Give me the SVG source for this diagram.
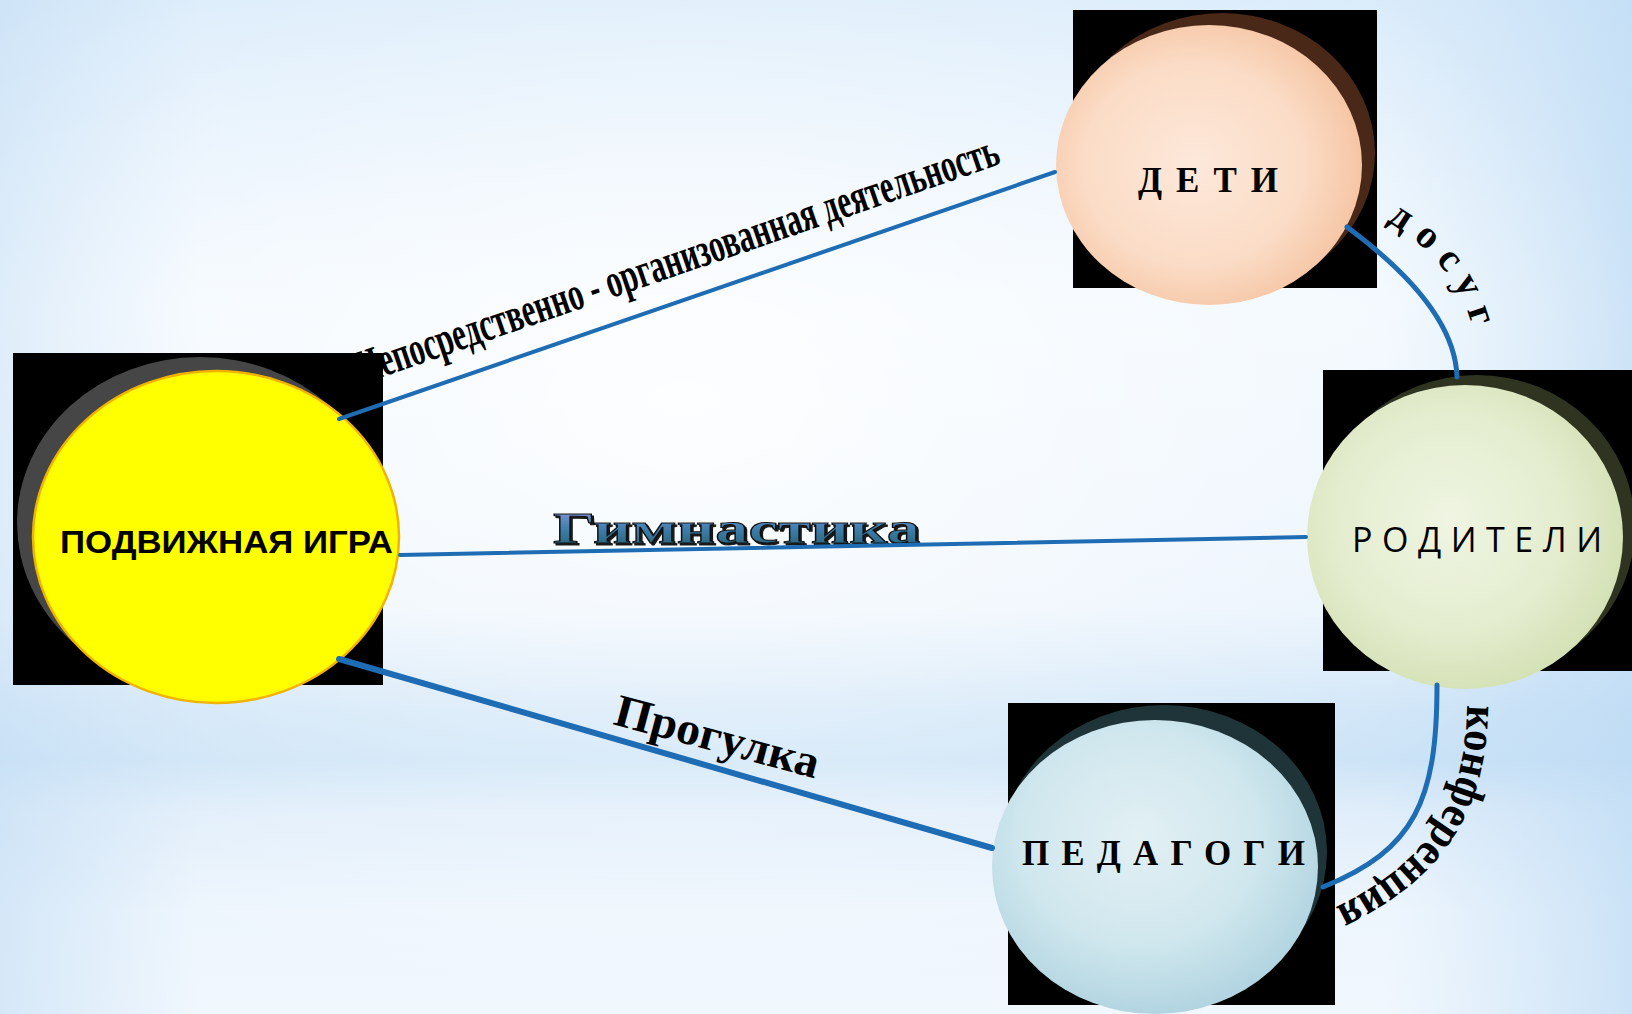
<svg xmlns="http://www.w3.org/2000/svg" width="1632" height="1014" viewBox="0 0 1632 1014">
<defs>
<linearGradient id="bgV" x1="0" y1="0" x2="0" y2="1">
<stop offset="0" stop-color="#d9ebfa"/>
<stop offset="0.3" stop-color="#f1f8fe"/>
<stop offset="0.6" stop-color="#e9f3fc"/>
<stop offset="0.7" stop-color="#cde4f7"/>
<stop offset="0.75" stop-color="#c9e2f6"/>
<stop offset="0.8" stop-color="#dfedfa"/>
<stop offset="0.9" stop-color="#eef6fd"/>
<stop offset="1" stop-color="#f0f7fd"/>
</linearGradient>
<radialGradient id="bgGlow" cx="0.42" cy="0.4" r="0.6">
<stop offset="0" stop-color="#ffffff" stop-opacity="0.85"/>
<stop offset="0.6" stop-color="#ffffff" stop-opacity="0.3"/>
<stop offset="1" stop-color="#ffffff" stop-opacity="0"/>
</radialGradient>
<linearGradient id="bgH" x1="0" y1="0" x2="1" y2="0">
<stop offset="0" stop-color="#c4def5" stop-opacity="0.6"/>
<stop offset="0.12" stop-color="#c4def5" stop-opacity="0"/>
<stop offset="0.85" stop-color="#c4def5" stop-opacity="0"/>
<stop offset="1" stop-color="#bcdaf4" stop-opacity="0.7"/>
</linearGradient>
<radialGradient id="peach" cx="0.45" cy="0.5" r="0.6">
<stop offset="0" stop-color="#fde8da"/>
<stop offset="0.6" stop-color="#fbdcc6"/>
<stop offset="1" stop-color="#f4c09c"/>
</radialGradient>
<radialGradient id="sage" cx="0.45" cy="0.45" r="0.6">
<stop offset="0" stop-color="#eff5e2"/>
<stop offset="0.6" stop-color="#e4edcf"/>
<stop offset="1" stop-color="#d2dfb2"/>
</radialGradient>
<radialGradient id="ice" cx="0.45" cy="0.4" r="0.6">
<stop offset="0" stop-color="#e2f0f4"/>
<stop offset="0.6" stop-color="#d0e7ee"/>
<stop offset="1" stop-color="#b2d5e1"/>
</radialGradient>
<linearGradient id="gym" x1="0" y1="0" x2="0" y2="1">
<stop offset="0" stop-color="#9a9ce6"/>
<stop offset="0.5" stop-color="#3f7fae"/>
<stop offset="1" stop-color="#1f5a66"/>
</linearGradient>
<filter id="gymShadow" x="-5%" y="-30%" width="110%" height="160%">
<feDropShadow dx="2" dy="2" stdDeviation="0.6" flood-color="#000000" flood-opacity="0.9"/>
</filter>
<path id="pDosug" d="M1370,212 Q1470,262 1478,360"/>
<path id="pKonf" d="M1467,700 C1467,800 1430,860 1340,905"/>
</defs>
<style>
.conn{fill:none;stroke:#1e6db4;stroke-linecap:round}
.box{fill:#000000}
.serif{font-family:"Liberation Serif","Times New Roman",serif;font-weight:bold;fill:#000000}
.sans{font-family:"Liberation Sans",Arial,sans-serif}
.lbl{font-family:"Liberation Serif","Times New Roman",serif;font-weight:bold;fill:#000000}
</style>

<rect x="0" y="0" width="1632" height="1014" fill="url(#bgV)"/>
<rect x="0" y="0" width="1632" height="1014" fill="url(#bgH)"/>
<rect x="0" y="0" width="1632" height="1014" fill="url(#bgGlow)"/>

<g id="connector-labels">
<text class="lbl" font-size="48" transform="translate(362,384) rotate(-19)" textLength="677" lengthAdjust="spacingAndGlyphs">Непосредственно - организованная деятельность</text>
<text font-family="Liberation Serif, Times New Roman, serif" font-weight="bold" font-size="44" x="553" y="543" textLength="367" lengthAdjust="spacingAndGlyphs" fill="url(#gym)" stroke="#111111" stroke-width="1" filter="url(#gymShadow)">Гимнастика</text>
<text class="lbl" font-size="46" transform="translate(612,724) rotate(15)" textLength="210" lengthAdjust="spacingAndGlyphs">Прогулка</text>
<text class="lbl" font-size="40"><textPath href="#pDosug" startOffset="19" textLength="140" lengthAdjust="spacing">досуг</textPath></text>
<text class="lbl" font-size="46"><textPath href="#pKonf" startOffset="5" textLength="258" lengthAdjust="spacingAndGlyphs">конференция</textPath></text>
</g>

<g id="node-igra">
<rect class="box" x="13" y="353" width="370" height="332"/>
<ellipse cx="200" cy="523" rx="183" ry="166" fill="#464646"/>
<ellipse cx="216" cy="537" rx="183" ry="166" fill="#ffff00" stroke="#f2b300" stroke-width="2.5"/>
<text class="sans" font-weight="bold" font-size="32" x="60" y="553" textLength="333" lengthAdjust="spacingAndGlyphs" fill="#000000">ПОДВИЖНАЯ  ИГРА</text>
</g>

<g id="node-deti">
<rect class="box" x="1073" y="10" width="304" height="278"/>
<ellipse cx="1222" cy="153" rx="153" ry="140" fill="#4a2818"/>
<ellipse cx="1209" cy="165" rx="153" ry="140" fill="url(#peach)"/>
<text class="serif" font-size="35" x="1138" y="192" textLength="140" lengthAdjust="spacing">ДЕТИ</text>
</g>

<g id="node-roditeli">
<rect class="box" x="1323" y="370" width="309" height="301"/>
<ellipse cx="1477" cy="527" rx="158" ry="152" fill="#2e3420"/>
<ellipse cx="1465" cy="537" rx="158" ry="152" fill="url(#sage)"/>
<text font-family="Open Sans, Liberation Sans, sans-serif" font-size="34" x="1352" y="552" textLength="250" lengthAdjust="spacing" fill="#000000">РОДИТЕЛИ</text>
</g>

<g id="node-pedagogi">
<rect class="box" x="1008" y="703" width="327" height="302"/>
<ellipse cx="1164" cy="852" rx="163" ry="147" fill="#1e3438"/>
<ellipse cx="1155" cy="867" rx="163" ry="147" fill="url(#ice)"/>
<text class="serif" font-size="35" x="1022" y="865" textLength="283" lengthAdjust="spacing">ПЕДАГОГИ</text>
</g>

<g id="connectors">
<line class="conn" x1="339" y1="419" x2="1055" y2="172" stroke-width="4"/>
<line class="conn" x1="400" y1="555" x2="1306" y2="537" stroke-width="4"/>
<line class="conn" x1="339" y1="659" x2="992" y2="848" stroke-width="6"/>
<path class="conn" d="M1347,227 Q1455,307 1457,377" stroke-width="5"/>
<path class="conn" d="M1437,685 C1437,800 1415,850 1323,887" stroke-width="5"/>
</g>
</svg>
